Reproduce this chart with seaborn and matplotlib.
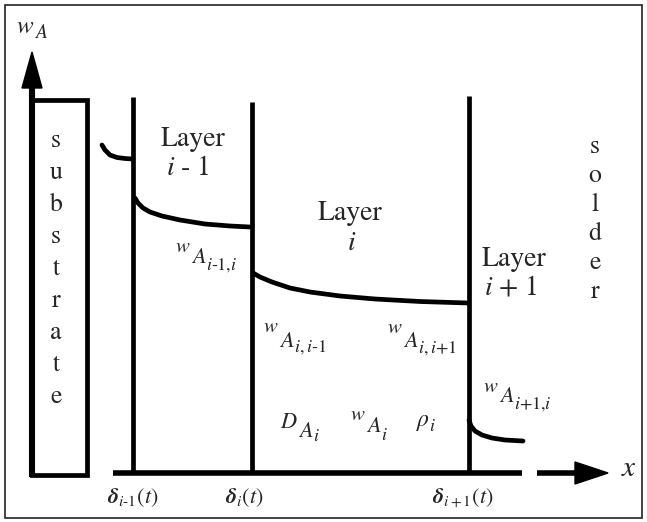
import matplotlib
matplotlib.use("Agg")
import matplotlib.pyplot as plt
import seaborn as sns
import pandas as pd
from matplotlib.patches import Rectangle, Polygon

sns.set_theme(style="white")
plt.rcParams['font.family'] = ['STIXGeneral', 'DejaVu Serif']
plt.rcParams['mathtext.fontset'] = 'stix'

# ---------------- data (schematic; pixel units) ----------------
interface_names = ['delta_i-1', 'delta_i', 'delta_i+1']
interface_x = [133, 252, 469]
interface_top = [97, 102, 96]
interface_labels = [r'$\boldsymbol{\delta}_{i\text{-}1}(t)$',
                    r'$\boldsymbol{\delta}_{i}(t)$',
                    r'$\boldsymbol{\delta}_{i+1}(t)$']
interface_label_x = [133, 244, 463]

# concentration profiles w_A(x) in each phase
substrate_x = [102, 105, 110, 117, 125, 133]
substrate_w = [145, 150, 155, 157.5, 158.5, 159]
layer_im1_x = [135, 138, 143, 150, 162, 180, 205, 230, 250]
layer_im1_w = [198, 203, 208, 212, 216, 220, 224, 226, 227]
layer_i_x = [253, 260, 272, 290, 310, 340, 375, 420, 468]
layer_i_w = [273, 277, 282, 288, 292, 296, 299, 301.5, 303]
solder_x = [469, 471, 475, 482, 492, 505, 523]
solder_w = [420, 426, 431, 435, 438, 440, 441]

substrate_word = "substrate"
solder_word = "solder"

layer_texts = [("Layer", r"$i$ - 1"), ("Layer", r"$i$"), ("Layer", r"$i$ + 1")]

# staggered variable labels: (symbol, base, subscript)
var_symbols = [r'$w$', r'$w$', r'$w$', r'$w$', r'$D$', r'$w$']
var_bases = [r'$A$'] * 6
var_subs = [r'$i$-1,$i$', r'$i,i$-1', r'$i,i$+1', r'$i$+1,$i$', r'$i$', r'$i$']

# ---------------- layout ----------------
fig = plt.figure(figsize=(6.47, 5.22), dpi=100)
ax = fig.add_axes([0, 0, 1, 1])
renderer = fig.canvas.get_renderer()

LW = 3.4
K = 'black'

# profiles
profiles = pd.concat([
    pd.DataFrame({'x': substrate_x, 'w': substrate_w, 'phase': 'substrate'}),
    pd.DataFrame({'x': layer_im1_x, 'w': layer_im1_w, 'phase': 'layer i-1'}),
    pd.DataFrame({'x': layer_i_x, 'w': layer_i_w, 'phase': 'layer i'}),
    pd.DataFrame({'x': solder_x, 'w': solder_w, 'phase': 'solder'}),
])
sns.lineplot(data=profiles, x='x', y='w', units='phase', estimator=None, sort=False,
             color=K, lw=LW, ax=ax, legend=False)
ax.set_xlim(0, 647)
ax.set_ylim(522, 0)
ax.axis('off')

# outer frame
ax.add_patch(Rectangle((5, 5), 637, 513, fill=False, lw=1.2, edgecolor='#222222'))

# y axis with arrow
ax.plot([32, 32], [477, 86], color=K, lw=4.4, solid_capstyle='butt')
ax.add_patch(Polygon([[22, 88], [42, 88], [32, 52]], closed=True, color=K))
t_w = ax.text(16, 33, r'$w$', fontsize=18, ha='left', va='baseline')
ax.text(16 + t_w.get_window_extent(renderer=renderer).width, 38, r'$A$',
        fontsize=14, ha='left', va='baseline')

# substrate rectangle
ax.add_patch(Rectangle((32, 100), 55, 375, fill=False, lw=LW, edgecolor=K, joinstyle='miter'))
for k, ch in enumerate(substrate_word):
    ax.text(56, 141 + 32 * k, ch, fontsize=18.5, ha='center', va='center')

# x axis with arrow
ax.plot([113, 522], [473, 473], color=K, lw=LW + 0.6, solid_capstyle='butt')
ax.plot([537, 578], [473, 473], color=K, lw=LW + 0.6, solid_capstyle='butt')
ax.add_patch(Polygon([[575, 462], [575, 484], [608, 473]], closed=True, color=K))
ax.text(629, 469, r'$x$', fontsize=21, ha='center', va='center')

# interfaces
for xi, top, lab, lx in zip(interface_x, interface_top, interface_labels, interface_label_x):
    ax.plot([xi, xi], [top, 473], color=K, lw=LW, solid_capstyle='butt')
    ax.text(lx, 498, lab, fontsize=16, ha='center', va='center')

# layer labels
layer_pos = [(193, 139, 188, 168), (350, 213, 352, 243), (514, 259, 511, 288)]
for (t1, t2), (x1, y1, x2, y2) in zip(layer_texts, layer_pos):
    ax.text(x1, y1, t1, fontsize=20, ha='center', va='center')
    ax.text(x2, y2, t2, fontsize=20, ha='center', va='center')

# solder letters
for k, ch in enumerate(solder_word):
    ax.text(595, 147 + 29 * k, ch, fontsize=18.5, ha='center', va='center')


def stagger(x, y_sym, y_base, y_sub, sym, base, sub, s1=15, s2=16, s3=13):
    cur = x
    for txt, yb, size in ((sym, y_sym, s1), (base, y_base, s2), (sub, y_sub, s3)):
        t = ax.text(cur, yb, txt, fontsize=size, ha='left', va='baseline')
        cur = cur + t.get_window_extent(renderer=renderer).width


var_pos = [
    (175, 252, 263, 270),
    (263, 332, 347, 352),
    (387, 333, 347, 353),
    (483, 392, 402, 409),
    (280, 428, 437, 441),
    (350, 420, 432, 440),
]
for (x, y1, y2, y3), s, b, sb in zip(var_pos, var_symbols, var_bases, var_subs):
    stagger(x, y1, y2, y3, s, b, sb, s1=(16 if s == r'$D$' else 15))

# rho_i
ax.text(416, 426, r'$\rho$', fontsize=17, ha='left', va='baseline')
ax.text(429, 431, r'$i$', fontsize=13, ha='left', va='baseline')

fig.savefig('out.png', dpi=100)
